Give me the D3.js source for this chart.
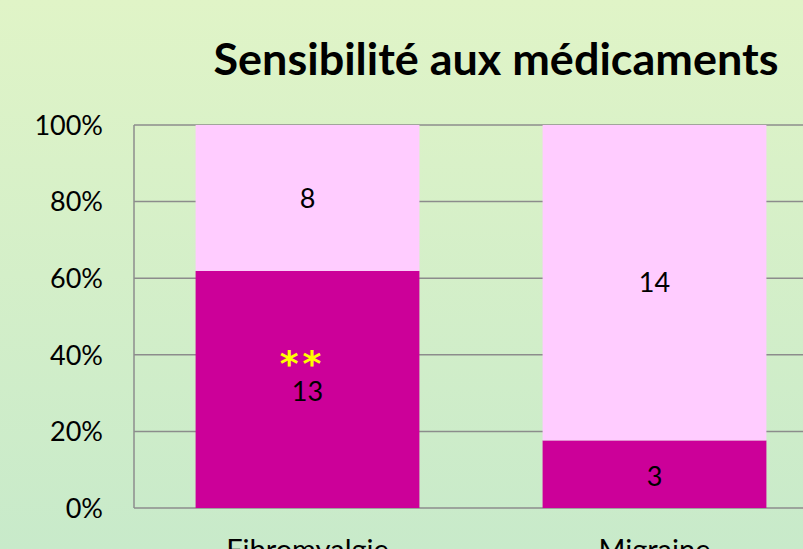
<!DOCTYPE html>
<html><head><meta charset="utf-8">
<script src="https://cdn.jsdelivr.net/npm/d3@7"></script>
<style>html,body{margin:0;padding:0;overflow:hidden;}svg{display:block;}</style>
</head><body>
<script>
const categories = ["Fibromyalgie", "Migraine"];
const sensibles = [13, 3];
const nonSensibles = [8, 14];
const yTicks = [0, 0.2, 0.4, 0.6, 0.8, 1.0];
const title = "Sensibilité aux médicaments";
const annotation = "**";

(function () {
const W = 803, H = 549;
const svg = d3.select("body").append("svg").attr("width", W).attr("height", H);
const defs = svg.append("defs");
const grad = defs.append("linearGradient").attr("id", "bg").attr("x1", 0).attr("y1", 0).attr("x2", 0).attr("y2", 1);
grad.append("stop").attr("offset", "0%").attr("stop-color", "#E0F4C7");
grad.append("stop").attr("offset", "100%").attr("stop-color", "#C8EACA");
svg.append("rect").attr("width", W).attr("height", H).attr("fill", "url(#bg)");

const font = "Lato, Open Sans, sans-serif";
const pLeft = 134, pTop = 125, pBottom = 508, pRight = 828;
const x = d3.scaleBand().domain(categories).range([pLeft, pRight]).paddingInner(0.355).paddingOuter(0.1775);
const y = d3.scaleLinear().domain([0, 1]).range([pBottom, pTop]);

const data = categories.map((c, i) => {
  const tot = sensibles[i] + nonSensibles[i];
  return {c, s: sensibles[i], n: nonSensibles[i], ps: sensibles[i] / tot};
});

// gridlines
svg.append("g").selectAll("line").data(yTicks).join("line")
  .attr("x1", pLeft).attr("x2", W).attr("y1", d => y(d)).attr("y2", d => y(d))
  .attr("stroke", "#8C8C8C").attr("stroke-width", 1.5);
svg.append("line").attr("x1", pLeft).attr("x2", pLeft).attr("y1", y(1)).attr("y2", y(0))
  .attr("stroke", "#8C8C8C").attr("stroke-width", 1.5);

// y labels
svg.append("g").selectAll("text").data(yTicks).join("text")
  .attr("x", 103).attr("y", d => y(d)).attr("dy", "0.36em").attr("text-anchor", "end")
  .attr("font-family", font).attr("font-size", 27).attr("fill", "#000")
  .text(d => d3.format(".0%")(d));

// bars
const g = svg.append("g");
g.selectAll("rect.s").data(data).join("rect").attr("class", "s")
  .attr("x", d => x(d.c)).attr("width", x.bandwidth())
  .attr("y", d => y(d.ps)).attr("height", d => y(0) - y(d.ps)).attr("fill", "#CC0099");
g.selectAll("rect.n").data(data).join("rect").attr("class", "n")
  .attr("x", d => x(d.c)).attr("width", x.bandwidth())
  .attr("y", y(1)).attr("height", d => y(d.ps) - y(1)).attr("fill", "#FFCCFF");

// value labels
g.selectAll("text.s").data(data).join("text").attr("class", "s")
  .attr("x", d => x(d.c) + x.bandwidth() / 2).attr("y", d => (y(0) + y(d.ps)) / 2 + 2).attr("dy", "0.36em")
  .attr("text-anchor", "middle").attr("font-family", font).attr("font-size", 27).text(d => d.s);
g.selectAll("text.n").data(data).join("text").attr("class", "n")
  .attr("x", d => x(d.c) + x.bandwidth() / 2).attr("y", d => (y(1) + y(d.ps)) / 2).attr("dy", "0.36em")
  .attr("text-anchor", "middle").attr("font-family", font).attr("font-size", 27).text(d => d.n);

// annotation
svg.append("text").attr("x", x(categories[0]) + x.bandwidth() / 2 - 5)
  .attr("y", 376)
  .attr("text-anchor", "middle").attr("font-family", "DejaVu Sans, sans-serif").attr("font-size", 36)
  .attr("font-weight", "bold")
  .attr("fill", "#FFFF00").attr("letter-spacing", 4).text(annotation);

// category labels
svg.append("g").selectAll("text").data(categories).join("text")
  .attr("x", d => x(d) + x.bandwidth() / 2).attr("y", 560).attr("text-anchor", "middle")
  .attr("font-family", font).attr("font-size", 29).text(d => d);

// title
svg.append("text").attr("x", 496).attr("y", 75).attr("text-anchor", "middle")
  .attr("font-family", font).attr("font-size", 44).attr("font-weight", "bold")
  .attr("textLength", 565).attr("lengthAdjust", "spacingAndGlyphs").text(title);
})();
</script>
</body></html>
